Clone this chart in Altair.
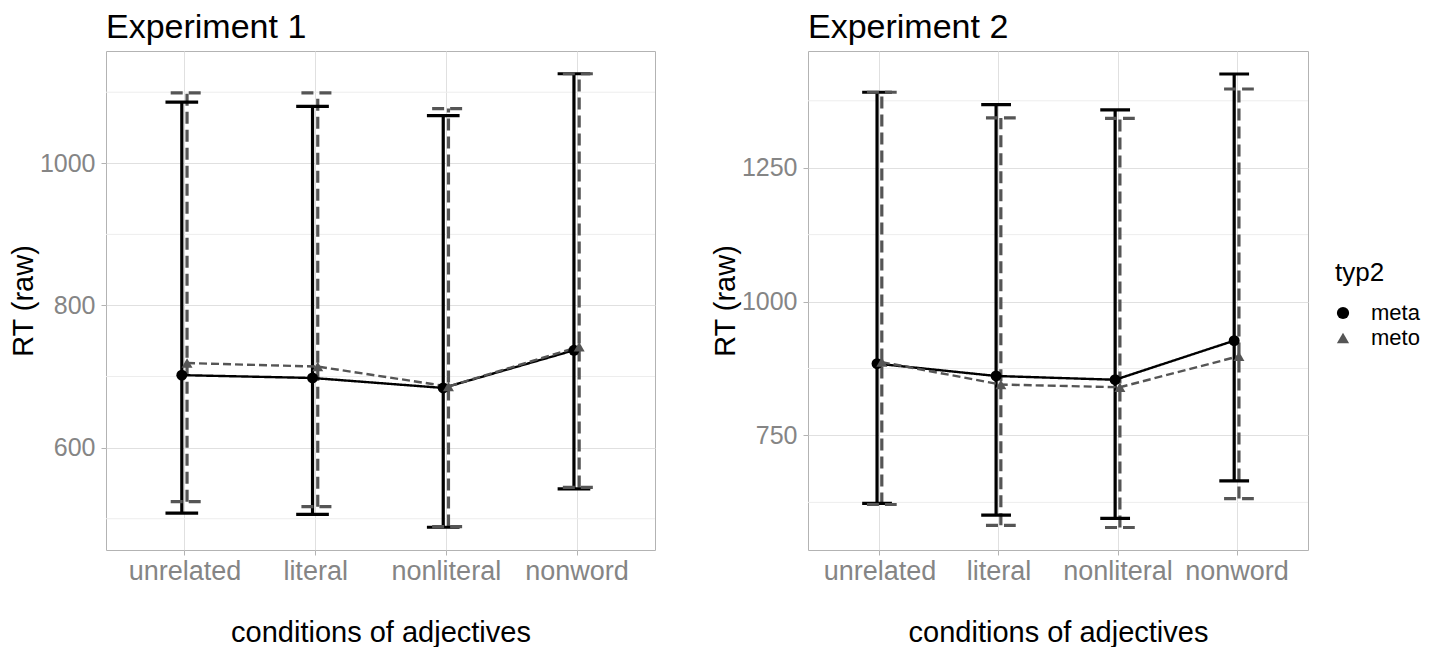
import altair as alt
import pandas as pd

categories = ["unrelated", "literal", "nonliteral", "nonword"]
groups = ["meta", "meto"]

# Experiment 1 (mean, lower, upper)
exp1_meta_mean = [702, 698, 684, 737]
exp1_meta_lower = [508, 506, 488, 542]
exp1_meta_upper = [1086, 1080, 1067, 1126]
exp1_meto_mean = [719, 714, 686, 742]
exp1_meto_lower = [524, 517, 489, 544]
exp1_meto_upper = [1099, 1099, 1077, 1126]

# Experiment 2 (mean, lower, upper)
exp2_meta_mean = [884, 861, 854, 927]
exp2_meta_lower = [623, 601, 595, 665]
exp2_meta_upper = [1391, 1368, 1358, 1425]
exp2_meto_mean = [887, 845, 840, 898]
exp2_meto_lower = [621, 582, 578, 632]
exp2_meto_upper = [1391, 1343, 1342, 1397]

y1_ticks = [600, 800, 1000]
y1_minor = [500, 700, 900, 1100]
y1_domain = [456, 1158]
y2_ticks = [750, 1000, 1250]
y2_minor = [625, 875, 1125, 1375]
y2_domain = [536, 1468]

FONT = "Liberation Sans"


def make_df(meta_mean, meta_lower, meta_upper, meto_mean, meto_lower, meto_upper):
    rows = []
    for g, m, lo, up in [("meta", meta_mean, meta_lower, meta_upper),
                         ("meto", meto_mean, meto_lower, meto_upper)]:
        for c, a, b, d in zip(categories, m, lo, up):
            rows.append({"cond": c, "typ2": g, "mean": a, "lower": b, "upper": d})
    return pd.DataFrame(rows)


df1 = make_df(exp1_meta_mean, exp1_meta_lower, exp1_meta_upper,
              exp1_meto_mean, exp1_meto_lower, exp1_meto_upper)
df2 = make_df(exp2_meta_mean, exp2_meta_lower, exp2_meta_upper,
              exp2_meto_mean, exp2_meto_lower, exp2_meto_upper)

cat_list = "[" + ",".join("'%s'" % c for c in categories) + "]"


def panel(df, title, domain, ticks, minor, width, show_legend):
    x_scale = alt.Scale(domain=[0.4, 4.6], nice=False, zero=False)
    x_axis = alt.Axis(values=[1, 2, 3, 4], labelExpr=cat_list + "[datum.value - 1]",
                      title="conditions of adjectives")
    y_scale = alt.Scale(domain=domain, nice=False, zero=False)
    y_axis = alt.Axis(values=ticks, format="d", title="RT (raw)")

    base = alt.Chart(df).transform_calculate(
        xpos="indexof(" + cat_list + ", datum.cond) + 1 + (datum.typ2 == 'meta' ? -0.02 : 0.02)"
    ).transform_calculate(
        xl="datum.xpos - 0.125", xr="datum.xpos + 0.125"
    )

    col = alt.condition("datum.typ2 == 'meta'", alt.value("#000000"), alt.value("#555555"))
    dash_bar = alt.condition("datum.typ2 == 'meto'", alt.value([12, 6]), alt.value([1, 0]))
    dash_line = alt.condition("datum.typ2 == 'meto'", alt.value([8, 4]), alt.value([1, 0]))

    minor_grid = alt.Chart(pd.DataFrame({"v": minor})).mark_rule(
        color="#ededed", strokeWidth=1
    ).encode(y=alt.Y("v:Q", scale=y_scale, axis=y_axis))

    bars = base.mark_rule(strokeWidth=3.2).encode(
        x=alt.X("xpos:Q", scale=x_scale, axis=x_axis),
        y=alt.Y("lower:Q", scale=y_scale, axis=y_axis), y2="upper:Q",
        color=col, strokeDash=dash_bar, detail="typ2:N")
    cap_hi = base.mark_rule(strokeWidth=3.2).encode(
        x=alt.X("xl:Q", scale=x_scale, axis=x_axis), x2="xr:Q",
        y=alt.Y("upper:Q", scale=y_scale, axis=y_axis),
        color=col, strokeDash=dash_bar, detail="typ2:N")
    cap_lo = base.mark_rule(strokeWidth=3.2).encode(
        x=alt.X("xl:Q", scale=x_scale, axis=x_axis), x2="xr:Q",
        y=alt.Y("lower:Q", scale=y_scale, axis=y_axis),
        color=col, strokeDash=dash_bar, detail="typ2:N")
    line = base.mark_line(strokeWidth=2.4).encode(
        x=alt.X("xpos:Q", scale=x_scale, axis=x_axis),
        y=alt.Y("mean:Q", scale=y_scale, axis=y_axis),
        color=col, strokeDash=dash_line, detail="typ2:N")

    legend = alt.Legend(title="typ2", orient="none", legendX=width + 27, legendY=209) if show_legend else None
    points = base.mark_point(filled=True, size=120, opacity=1).encode(
        x=alt.X("xpos:Q", scale=x_scale, axis=x_axis),
        y=alt.Y("mean:Q", scale=y_scale, axis=y_axis),
        color=alt.Color("typ2:N", scale=alt.Scale(domain=groups, range=["#000000", "#555555"]), legend=legend),
        shape=alt.Shape("typ2:N", scale=alt.Scale(domain=groups, range=["circle", "triangle-up"]), legend=legend),
    )

    return alt.layer(minor_grid, bars, cap_hi, cap_lo, line, points).properties(
        width=width, height=499,
        title=alt.Title(title, anchor="start", frame="group", fontSize=34, font=FONT,
                        fontWeight="normal", color="#000000", offset=6),
    )


p1 = panel(df1, "Experiment 1", y1_domain, y1_ticks, y1_minor, 549, False)
p2 = panel(df2, "Experiment 2", y2_domain, y2_ticks, y2_minor, 500, True)

chart = alt.hconcat(p1, p2, spacing=54).resolve_scale(
    color="independent", shape="independent", x="independent", y="independent"
).properties(
    padding={"left": 0, "top": 2, "right": 0, "bottom": 0}
).configure_view(
    stroke="#b3b3b3", strokeWidth=1
).configure_axis(
    domain=False, tickColor="#b3b3b3", tickSize=5, gridColor="#e0e0e0", gridWidth=1,
    labelColor="#858585", labelFont=FONT, titleFont=FONT, titleColor="#000000",
    titleFontWeight="normal", titleFontSize=29,
).configure_axisX(
    labelFontSize=27, labelPadding=3, titlePadding=34,
).configure_axisY(
    labelFontSize=25, labelPadding=6, titlePadding=1,
).configure_legend(
    titleFontSize=26, labelFontSize=22, titleFont=FONT, labelFont=FONT,
    titleFontWeight="normal", titleColor="#000000", labelColor="#000000",
    symbolSize=150, rowPadding=3, titlePadding=16, symbolOffset=-3, labelOffset=17,
)

chart.save("out.html", embed_options={"renderer": "svg", "actions": False})
